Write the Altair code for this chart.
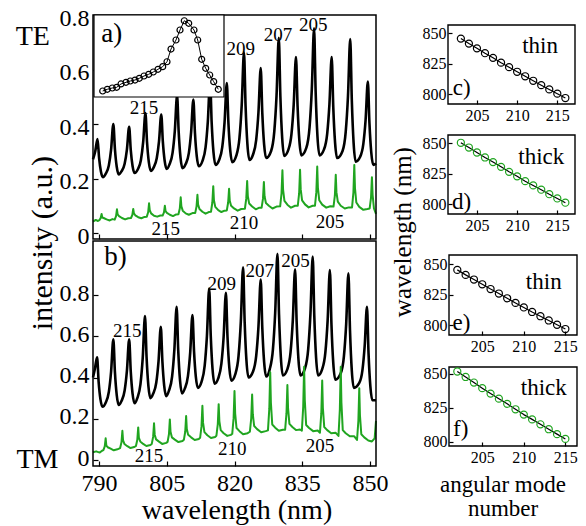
import altair as alt
import pandas as pd

FONT = "Liberation Serif, Times New Roman, DejaVu Serif, serif"
GREEN = "#20a520"
W, H = 570, 520

# ---------------- spectra ----------------
# panel a) TE, thin ring (black)
a_thin_wl = [788.7, 789.2, 789.7, 790.05, 790.45, 790.9,
             791.5, 792.2, 792.7, 793.2, 793.55, 793.95, 794.4,
             795.0, 795.7, 796.2, 796.7, 797.05, 797.45, 797.9,
             798.6, 799.3, 799.8, 800.3, 800.65, 801.05, 801.5,
             802.1, 802.8, 803.3, 803.8, 804.15, 804.55, 805.0,
             805.6, 806.3, 806.8, 807.3, 807.65, 808.05, 808.5,
             809.2, 809.9, 810.4, 810.9, 811.25, 811.65, 812.1,
             812.9, 813.6, 814.1, 814.6, 814.95, 815.35, 815.8,
             816.6, 817.3, 817.8, 818.3, 818.65, 819.05, 819.5,
             820.4, 821.1, 821.6, 822.1, 822.45, 822.85, 823.3,
             824.1, 824.8, 825.3, 825.8, 826.15, 826.55, 827.0,
             828.1, 828.8, 829.3, 829.8, 830.15, 830.55, 831.0,
             831.9, 832.6, 833.1, 833.6, 833.95, 834.35, 834.8,
             835.9, 836.6, 837.1, 837.6, 837.95, 838.35, 838.8,
             839.8, 840.5, 841.0, 841.5, 841.85, 842.25, 842.7,
             843.9, 844.6, 845.1, 845.6, 845.95, 846.35, 846.8,
             847.8, 848.5, 849.0, 849.5, 849.85, 850.25, 850.7, 851.3]
a_thin_int = [0.27, 0.30, 0.345, 0.275, 0.226, 0.205,
              0.217, 0.248, 0.306, 0.40, 0.308, 0.243, 0.215,
              0.226, 0.254, 0.306, 0.39, 0.305, 0.246, 0.22,
              0.233, 0.268, 0.334, 0.44, 0.334, 0.26, 0.228,
              0.24, 0.274, 0.336, 0.435, 0.335, 0.265, 0.235,
              0.251, 0.294, 0.375, 0.505, 0.372, 0.278, 0.238,
              0.253, 0.293, 0.369, 0.49, 0.368, 0.282, 0.245,
              0.264, 0.314, 0.409, 0.56, 0.405, 0.297, 0.25,
              0.268, 0.316, 0.406, 0.55, 0.405, 0.304, 0.26,
              0.284, 0.349, 0.47, 0.663, 0.466, 0.327, 0.268,
              0.288, 0.342, 0.443, 0.605, 0.44, 0.325, 0.275,
              0.301, 0.372, 0.504, 0.716, 0.50, 0.348, 0.283,
              0.305, 0.363, 0.472, 0.646, 0.466, 0.339, 0.285,
              0.313, 0.388, 0.527, 0.751, 0.518, 0.355, 0.285,
              0.307, 0.364, 0.473, 0.646, 0.461, 0.331, 0.275,
              0.301, 0.371, 0.502, 0.712, 0.487, 0.33, 0.262,
              0.28, 0.327, 0.415, 0.556, 0.403, 0.296, 0.25, 0.255]

# panel a) TE, thick ring (green)
a_thick_wl = [788.7, 789.3, 789.8, 790.1, 790.4, 790.6, 790.75, 791.05, 791.7, 792.4, 793.0,
              793.5, 793.8, 794.0, 794.15, 794.45, 795.1, 795.8, 796.5,
              797.1, 797.4, 797.6, 797.75, 798.05, 798.7, 799.4, 800.1,
              800.6, 800.9, 801.1, 801.25, 801.55, 802.2, 802.9, 803.6,
              804.1, 804.4, 804.6, 804.75, 805.05, 805.7, 806.4, 807.1,
              807.6, 807.9, 808.1, 808.25, 808.55, 809.2, 809.9, 810.7,
              811.3, 811.6, 811.8, 811.95, 812.25, 812.9, 813.6, 814.3,
              814.8, 815.1, 815.3, 815.45, 815.75, 816.4, 817.1, 817.8,
              818.3, 818.6, 818.8, 818.95, 819.25, 819.9, 820.7, 821.5,
              822.3, 822.6, 822.8, 822.95, 823.25, 823.9, 824.7, 825.5,
              826.0, 826.3, 826.5, 826.65, 826.95, 827.6, 828.4, 829.3,
              830.1, 830.4, 830.6, 830.75, 831.05, 831.7, 832.5, 833.4,
              834.0, 834.3, 834.5, 834.65, 834.95, 835.6, 836.4, 837.3,
              837.8, 838.1, 838.3, 838.45, 838.75, 839.4, 840.3, 841.2,
              841.9, 842.2, 842.4, 842.55, 842.85, 843.5, 844.4, 845.3,
              846.0, 846.3, 846.5, 846.65, 846.95, 847.6, 848.5, 849.4,
              849.9, 850.2, 850.4, 850.55, 850.85, 851.3]
a_thick_int = [0.042, 0.048, 0.044, 0.047, 0.055, 0.07, 0.057, 0.055, 0.05, 0.046, 0.051,
               0.049, 0.062, 0.087, 0.068, 0.062, 0.055, 0.05, 0.054,
               0.055, 0.066, 0.088, 0.072, 0.065, 0.058, 0.054, 0.059,
               0.06, 0.076, 0.109, 0.084, 0.072, 0.063, 0.06, 0.064,
               0.064, 0.076, 0.10, 0.08, 0.074, 0.067, 0.062, 0.068,
               0.069, 0.09, 0.131, 0.098, 0.082, 0.072, 0.067, 0.073,
               0.073, 0.097, 0.14, 0.104, 0.088, 0.078, 0.071, 0.077,
               0.078, 0.112, 0.172, 0.12, 0.096, 0.084, 0.077, 0.082,
               0.083, 0.113, 0.162, 0.118, 0.10, 0.09, 0.082, 0.088,
               0.089, 0.126, 0.191, 0.135, 0.108, 0.097, 0.087, 0.093,
               0.093, 0.126, 0.187, 0.135, 0.11, 0.10, 0.09, 0.097,
               0.098, 0.145, 0.23, 0.158, 0.118, 0.104, 0.093, 0.10,
               0.10, 0.146, 0.232, 0.16, 0.12, 0.105, 0.094, 0.10,
               0.10, 0.15, 0.244, 0.166, 0.12, 0.104, 0.093, 0.098,
               0.097, 0.137, 0.214, 0.15, 0.115, 0.10, 0.09, 0.094,
               0.094, 0.148, 0.25, 0.165, 0.112, 0.096, 0.085, 0.088,
               0.09, 0.13, 0.205, 0.14, 0.09, 0.07]

# panel b) TM, thin ring (black)
b_thin_wl = [788.7, 789.1, 789.6, 789.95, 790.35, 790.8,
             791.5, 792.2, 792.7, 793.2, 793.55, 793.95, 794.4,
             795.0, 795.7, 796.2, 796.7, 797.05, 797.45, 797.9,
             798.5, 799.2, 799.7, 800.2, 800.55, 800.95, 801.4,
             802.0, 802.7, 803.2, 803.7, 804.05, 804.45, 804.9,
             805.5, 806.2, 806.7, 807.2, 807.55, 807.95, 808.4,
             809.0, 809.7, 810.2, 810.7, 811.05, 811.45, 811.9,
             812.7, 813.4, 813.9, 814.4, 814.75, 815.15, 815.6,
             816.4, 817.1, 817.6, 818.1, 818.45, 818.85, 819.3,
             820.2, 820.9, 821.4, 821.9, 822.25, 822.65, 823.1,
             824.1, 824.8, 825.3, 825.8, 826.15, 826.55, 827.0,
             827.8, 828.5, 829.0, 829.5, 829.85, 830.25, 830.7,
             831.7, 832.4, 832.9, 833.4, 833.75, 834.15, 834.6,
             835.6, 836.3, 836.8, 837.3, 837.65, 838.05, 838.5,
             839.4, 840.1, 840.6, 841.1, 841.45, 841.85, 842.3,
             843.5, 844.2, 844.7, 845.2, 845.55, 845.95, 846.4,
             847.6, 848.3, 848.8, 849.3, 849.65, 850.05, 850.5, 851.3]
b_thin_int = [0.40, 0.44, 0.498, 0.378, 0.294, 0.258,
              0.278, 0.33, 0.428, 0.585, 0.426, 0.315, 0.267,
              0.286, 0.337, 0.432, 0.585, 0.43, 0.322, 0.275,
              0.30, 0.368, 0.495, 0.698, 0.499, 0.36, 0.30,
              0.321, 0.376, 0.48, 0.646, 0.478, 0.36, 0.31,
              0.336, 0.405, 0.535, 0.743, 0.533, 0.386, 0.323,
              0.346, 0.407, 0.521, 0.703, 0.527, 0.403, 0.35,
              0.379, 0.456, 0.601, 0.832, 0.601, 0.439, 0.37,
              0.396, 0.467, 0.599, 0.811, 0.598, 0.449, 0.385,
              0.418, 0.506, 0.671, 0.935, 0.668, 0.48, 0.40,
              0.429, 0.505, 0.647, 0.875, 0.64, 0.476, 0.405,
              0.441, 0.536, 0.714, 1.0, 0.705, 0.499, 0.41,
              0.441, 0.523, 0.678, 0.925, 0.668, 0.487, 0.41,
              0.445, 0.537, 0.71, 0.986, 0.698, 0.496, 0.41,
              0.441, 0.522, 0.676, 0.921, 0.656, 0.47, 0.39,
              0.421, 0.503, 0.658, 0.905, 0.628, 0.433, 0.35,
              0.374, 0.436, 0.554, 0.743, 0.517, 0.358, 0.29, 0.29]

# panel b) TM, thick ring (green)
b_thick_wl = [788.7, 789.4, 790.2, 790.7, 791.0, 791.3, 791.5, 791.65, 791.95, 792.6, 793.3, 794.1,
              794.7, 795.0, 795.2, 795.35, 795.65, 796.3, 797.0, 797.8,
              798.2, 798.5, 798.7, 798.85, 799.15, 799.8, 800.5, 801.4,
              801.7, 802.0, 802.2, 802.35, 802.65, 803.3, 804.0, 804.9,
              805.2, 805.5, 805.7, 805.85, 806.15, 806.8, 807.6, 808.5,
              808.8, 809.1, 809.3, 809.45, 809.75, 810.4, 811.2, 812.1,
              812.4, 812.7, 812.9, 813.05, 813.35, 814.0, 814.8, 815.7,
              816.0, 816.3, 816.5, 816.65, 816.95, 817.6, 818.4, 819.2,
              819.5, 819.8, 820.0, 820.15, 820.45, 821.1, 821.9, 822.9,
              823.4, 823.7, 823.9, 824.05, 824.35, 825.0, 825.9, 826.9,
              827.4, 827.7, 827.9, 828.05, 828.35, 829.0, 829.8, 830.7,
              831.2, 831.5, 831.7, 831.85, 832.15, 832.8, 833.6, 834.5,
              834.9, 835.2, 835.4, 835.55, 835.85, 836.5, 837.4, 838.4,
              838.9, 839.2, 839.4, 839.55, 839.85, 840.5, 841.4, 842.4,
              843.0, 843.3, 843.5, 843.65, 843.95, 844.6, 845.5, 846.5,
              847.1, 847.4, 847.6, 847.75, 848.05, 848.7, 849.6, 850.4,
              851.0, 851.3]
b_thick_int = [0.038, 0.042, 0.036, 0.045, 0.048, 0.066, 0.105, 0.07, 0.062, 0.055, 0.047, 0.052,
               0.058, 0.086, 0.142, 0.095, 0.078, 0.067, 0.058, 0.063,
               0.068, 0.098, 0.158, 0.108, 0.09, 0.078, 0.068, 0.073,
               0.078, 0.112, 0.178, 0.123, 0.10, 0.089, 0.078, 0.083,
               0.088, 0.125, 0.197, 0.137, 0.11, 0.099, 0.087, 0.092,
               0.098, 0.137, 0.213, 0.15, 0.122, 0.11, 0.097, 0.102,
               0.108, 0.163, 0.263, 0.18, 0.135, 0.12, 0.107, 0.112,
               0.118, 0.173, 0.271, 0.189, 0.145, 0.13, 0.117, 0.122,
               0.127, 0.203, 0.335, 0.225, 0.155, 0.14, 0.125, 0.13,
               0.137, 0.202, 0.318, 0.222, 0.165, 0.15, 0.135, 0.14,
               0.144, 0.249, 0.425, 0.279, 0.172, 0.157, 0.142, 0.147,
               0.147, 0.227, 0.364, 0.25, 0.175, 0.16, 0.145, 0.148,
               0.142, 0.259, 0.452, 0.291, 0.17, 0.155, 0.14, 0.143,
               0.132, 0.226, 0.385, 0.253, 0.16, 0.145, 0.13, 0.132,
               0.117, 0.244, 0.452, 0.279, 0.145, 0.13, 0.115, 0.115,
               0.097, 0.19, 0.348, 0.217, 0.125, 0.11, 0.095, 0.09,
               0.105, 0.19]

# inset of a): one resonance, normalised
inset_x = [8.7, 13.3, 18.3, 22.7, 27, 32, 36.3, 41, 45.3, 50, 54.7, 59.3, 64, 68.7, 73, 77, 82, 86,
           90.3, 94.7, 100, 103.7, 107.7, 111.7, 115.7, 119.7, 124.3]
inset_y = [0.073, 0.094, 0.11, 0.118, 0.159, 0.179, 0.195, 0.207, 0.228, 0.256, 0.277, 0.305, 0.338,
           0.37, 0.43, 0.585, 0.695, 0.817, 0.93, 0.899, 0.817, 0.695, 0.46, 0.35, 0.268, 0.187, 0.094]

# mode number vs resonance wavelength
modes_cd = [203, 204, 205, 206, 207, 208, 209, 210, 211, 212, 213, 214, 215, 216]
c_wl = [845.6, 841.5, 837.6, 833.6, 829.8, 825.8, 822.1, 818.3, 814.6, 810.9, 807.3, 803.8, 800.3, 796.7]
d_wl = [850.4, 846.5, 842.4, 838.3, 834.5, 830.6, 826.5, 822.8, 818.8, 815.3, 811.8, 808.1, 804.6, 801.1]
modes_ef = [202, 203, 204, 205, 206, 207, 208, 209, 210, 211, 212, 213, 214, 215]
e_wl = [845.2, 841.1, 837.3, 833.4, 829.5, 825.8, 821.9, 818.1, 814.4, 810.7, 807.2, 803.7, 800.2, 796.7]
f_wl = [851.6, 847.6, 843.5, 839.4, 835.4, 831.7, 827.9, 823.9, 820.0, 816.5, 812.9, 809.3, 805.7, 802.2]

# peak annotations
a_lab_x = [800.0, 821.4, 829.6, 837.4]
a_lab_y = [0.459, 0.675, 0.727, 0.763]
a_lab_t = ["215", "209", "207", "205"]
a_glab_x = [804.8, 822.1, 841.1]
a_glab_y = [0.015, 0.037, 0.040]
a_glab_t = ["215", "210", "205"]
b_lab_x = [796.3, 817.2, 825.6, 833.5]
b_lab_y = [0.626, 0.853, 0.918, 0.966]
b_lab_t = ["215", "209", "207", "205"]
b_glab_x = [801.1, 819.5, 838.9]
b_glab_y = [0.019, 0.053, 0.069]
b_glab_t = ["215", "210", "205"]

WL_TICKS = [790, 805, 820, 835, 850]
INT_TICKS = [0, 0.2, 0.4, 0.6, 0.8]
MODE_TICKS = [205, 210, 215]
RWL_TICKS = [800, 825, 850]

# ---------------- scales (domain -> pixel range) ----------------
def S(dom, rng):
    return alt.Scale(domain=dom, range=rng, nice=False, zero=False)

WL_DOM = [788.7, 851.3]
A_DOM = [-0.022, 0.8]
B_DOM = [-0.029, 1.062]
AX = S(WL_DOM, [85, 368]); AY = S(A_DOM, [231, 7]); BY = S(B_DOM, [458, 233])
I_XD, I_YD = [0, 130], [0, 1]
IX = S(I_XD, [86, 216]); IY = S(I_YD, [89, 7])
CD_XD = [201.4, 217.2]; EF_XD = [201.0, 216.4]
C_YD = [791.8, 856.8]; D_YD = [791.8, 856.8]; E_YD = [791.8, 857.4]; F_YD = [797.0, 854.9]
CX = S(CD_XD, [440, 567]); CY = S(C_YD, [96, 17])
DX = S(CD_XD, [440, 567]); DY = S(D_YD, [206, 127])
EX = S(EF_XD, [441, 569]); EY = S(E_YD, [327, 247])
FX = S(EF_XD, [441, 569]); FY = S(F_YD, [438, 359])

INT_EXPR = "datum.value == 0 ? '0' : format(datum.value, '.1f')"


def lab_axis(orient, offset, values, size, pad=3, expr=None, loff=0):
    kw = dict(orient=orient, offset=offset, values=values, tickSize=0, ticks=False, domain=False,
              grid=False, labelFont=FONT, labelFontSize=size, labelColor="black", labelPadding=pad,
              labelFlush=False, labelOverlap=False, labelOffset=loff, title=None)
    if expr:
        kw["labelExpr"] = expr
    return alt.Axis(**kw)


def tick_axis(orient, offset, values, size=5):
    return alt.Axis(orient=orient, offset=offset, values=values, tickSize=size, tickWidth=1.2,
                    tickColor="black", labels=False, domain=False, grid=False, title=None)


def line(x, y, xs, ys, color, width, xaxis=None, yaxis=None, interp="linear"):
    df = pd.DataFrame({"x": x, "y": y})
    return alt.Chart(df).mark_line(color=color, strokeWidth=width, interpolate=interp,
                                   strokeJoin="round").encode(
        x=alt.X("x:Q", scale=xs, axis=xaxis), y=alt.Y("y:Q", scale=ys, axis=yaxis))


def points(x, y, xs, ys, color, size, xaxis=None, yaxis=None):
    df = pd.DataFrame({"x": x, "y": y})
    return alt.Chart(df).mark_point(shape="circle", filled=False, color=color, size=size,
                                    strokeWidth=1.2, opacity=1).encode(
        x=alt.X("x:Q", scale=xs, axis=xaxis), y=alt.Y("y:Q", scale=ys, axis=yaxis))


def texts(x, y, t, xs, ys, size, **mk):
    df = pd.DataFrame({"x": x, "y": y, "t": t})
    return alt.Chart(df).mark_text(font=FONT, fontSize=size, color="black", **mk).encode(
        x=alt.X("x:Q", scale=xs, axis=None), y=alt.Y("y:Q", scale=ys, axis=None), text="t:N")


def frame(xd, yd, xs, ys, fill="white", fo=0.0, sw=1.5):
    df = pd.DataFrame({"x0": [xd[0]], "x1": [xd[1]], "y0": [yd[0]], "y1": [yd[1]]})
    return alt.Chart(df).mark_rect(fill=fill, fillOpacity=fo, stroke="black", strokeWidth=sw).encode(
        x=alt.X("x0:Q", scale=xs, axis=None), x2="x1:Q",
        y=alt.Y("y0:Q", scale=ys, axis=None), y2="y1:Q")


layers = []
# ---- panel a
layers.append(line(a_thin_wl, a_thin_int, AX, AY, "black", 2.6,
                   xaxis=tick_axis("top", -231, WL_TICKS),
                   yaxis=lab_axis("left", -85, INT_TICKS, 24, pad=4, expr=INT_EXPR, loff=3),
                   interp="monotone"))
layers.append(line(a_thick_wl, a_thick_int, AX, AY, GREEN, 2.0,
                   yaxis=tick_axis("right", 85 - W, INT_TICKS)))
# ---- panel b
layers.append(line(b_thin_wl, b_thin_int, AX, BY, "black", 2.6,
                   xaxis=lab_axis("bottom", 458 - H, WL_TICKS, 24, pad=5),
                   yaxis=lab_axis("left", -85, INT_TICKS, 24, pad=4, expr=INT_EXPR, loff=-2),
                   interp="monotone"))
layers.append(line(b_thick_wl, b_thick_int, AX, BY, GREEN, 2.0,
                   xaxis=tick_axis("top", -458, WL_TICKS),
                   yaxis=tick_axis("right", 85 - W, INT_TICKS)))
layers.append(frame(WL_DOM, A_DOM, AX, AY))
layers.append(frame(WL_DOM, B_DOM, AX, BY))
# ---- inset
layers.append(frame(I_XD, I_YD, IX, IY, fill="white", fo=1.0, sw=1.2))
layers.append(line(inset_x, inset_y, IX, IY, "black", 1.0))
layers.append(points(inset_x, inset_y, IX, IY, "black", 36))
layers.append(texts([17.7], [0.768], ["a)"], IX, IY, 27))
# ---- annotations of the spectra
layers.append(texts(a_lab_x, a_lab_y, a_lab_t, AX, AY, 19))
layers.append(texts(a_glab_x, a_glab_y, a_glab_t, AX, AY, 19))
layers.append(texts(b_lab_x, b_lab_y, b_lab_t, AX, BY, 19))
layers.append(texts(b_glab_x, b_glab_y, b_glab_t, AX, BY, 19))
layers.append(texts([793.7], [0.986], ["b)"], AX, BY, 27))
layers.append(texts([775.4], [0.72], ["TE"], AX, AY, 28))
layers.append(texts([776.4], [0.0], ["TM"], AX, BY, 28))
layers.append(texts([777.6], [-0.037], ["intensity (a.u.)"], AX, AY, 30, angle=270))
layers.append(texts([820.55], [-0.288], ["wavelength (nm)"], AX, BY, 28, baseline="alphabetic"))

# ---- right panels
right = [
    (modes_cd, c_wl, CX, CY, CD_XD, C_YD, 96, 440, "black", "thin", "c)", (212.85, 839.7), (203.1, 804.7)),
    (modes_cd, d_wl, DX, DY, CD_XD, D_YD, 206, 440, GREEN, "thick", "d)", (213.0, 838.9), (203.1, 801.9)),
    (modes_ef, e_wl, EX, EY, EF_XD, E_YD, 327, 441, "black", "thin", "e)", (212.4, 835.5), (202.5, 801.4)),
    (modes_ef, f_wl, FX, FY, EF_XD, F_YD, 438, 441, GREEN, "thick", "f)", (212.4, 839.2), (202.4, 809.3)),
]
for m, wl, xs, ys, xd, yd, bot, left, col, word, tag, wpos, tpos in right:
    layers.append(frame(xd, yd, xs, ys, sw=1.4))
    layers.append(line(m, wl, xs, ys, "black", 1.2,
                       xaxis=lab_axis("bottom", bot - H, MODE_TICKS, 16, pad=3),
                       yaxis=lab_axis("left", -left, RWL_TICKS, 16, pad=2)))
    layers.append(points(m, wl, xs, ys, col, 50,
                         xaxis=tick_axis("top", -bot, MODE_TICKS, 4),
                         yaxis=tick_axis("right", left - W, RWL_TICKS, 4)))
    layers.append(texts([wpos[0]], [wpos[1]], [word], xs, ys, 23))
    layers.append(texts([tpos[0]], [tpos[1]], [tag], xs, ys, 23))

layers.append(texts([195.8], [776.9], ["wavelength (nm)"], DX, DY, 25, angle=270))
layers.append(texts([207.5], [776.5], ["angular mode\nnumber"], FX, FY, 23, baseline="top",
                    lineBreak="\n", lineHeight=24))

chart = alt.layer(*layers).resolve_scale(x="independent", y="independent").resolve_axis(
    x="independent", y="independent").properties(
    width=W, height=H, padding=0, autosize=alt.AutoSizeParams(type="none")
).configure_view(stroke=None)

chart.save("out.html", embed_options={"renderer": "svg", "actions": False})
